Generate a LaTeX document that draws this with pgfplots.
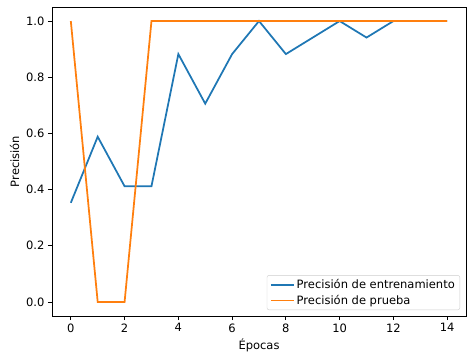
\documentclass[border=0pt]{standalone}
\usepackage{fontspec}
\setmainfont{DejaVu Sans}
\usepackage{pgfplots}
\pgfplotsset{compat=1.18}
\definecolor{mplblue}{HTML}{1F77B4}
\definecolor{mplorange}{HTML}{FF7F0E}
\begin{document}
\begin{tikzpicture}
\begin{axis}[
  scale only axis,
  width=414pt, height=309pt,
  xmin=-0.7, xmax=14.7,
  ymin=-0.05, ymax=1.05,
  xtick={0,2,...,14},
  ytick={0,0.2,0.4,0.6,0.8,1.0},
  yticklabel style={/pgf/number format/.cd, fixed, fixed zerofill, precision=1},
  /pgf/number format/assume math mode=true,
  tick label style={font=\fontsize{11.5}{13.5}\selectfont},
  label style={font=\fontsize{11.5}{13.5}\selectfont},
  xlabel={Épocas},
  ylabel={Precisión},
  tick align=outside,
  xtick pos=left, ytick pos=left,
  major tick length=4pt,
  tick style={black, line width=0.9pt},
  axis line style={line width=0.9pt},
  legend style={at={(1,0)}, anchor=south east, xshift=-6pt, yshift=6pt,
    draw=black!20, rounded corners=2pt, fill=white, fill opacity=0.8, text opacity=1,
    font=\fontsize{11.5}{13.5}\selectfont, inner xsep=3pt, inner ysep=2pt, row sep=1pt},
  legend cell align=left,
  legend image code/.code={\draw[#1, line width=1.75pt] (0pt,0pt) -- (23pt,0pt);},
]
\addplot[mplblue, line width=1.75pt] coordinates {
(0,0.3529) (1,0.5882) (2,0.4118) (3,0.4118) (4,0.8824) (5,0.7059) (6,0.8824) (7,1.0)
(8,0.8824) (9,0.9412) (10,1.0) (11,0.9412) (12,1.0) (13,1.0) (14,1.0)};
\addlegendentry{Precisión de entrenamiento}
\addplot[mplorange, line width=1.75pt] coordinates {
(0,1.0) (1,0.0) (2,0.0) (3,1.0) (4,1.0) (5,1.0) (6,1.0) (7,1.0)
(8,1.0) (9,1.0) (10,1.0) (11,1.0) (12,1.0) (13,1.0) (14,1.0)};
\addlegendentry{Precisión de prueba}
\end{axis}
\pgfresetboundingbox
\useasboundingbox ([xshift=-52pt,yshift=-46pt]current axis.south west) rectangle ([xshift=8pt,yshift=7pt]current axis.north east);
\end{tikzpicture}
\end{document}
